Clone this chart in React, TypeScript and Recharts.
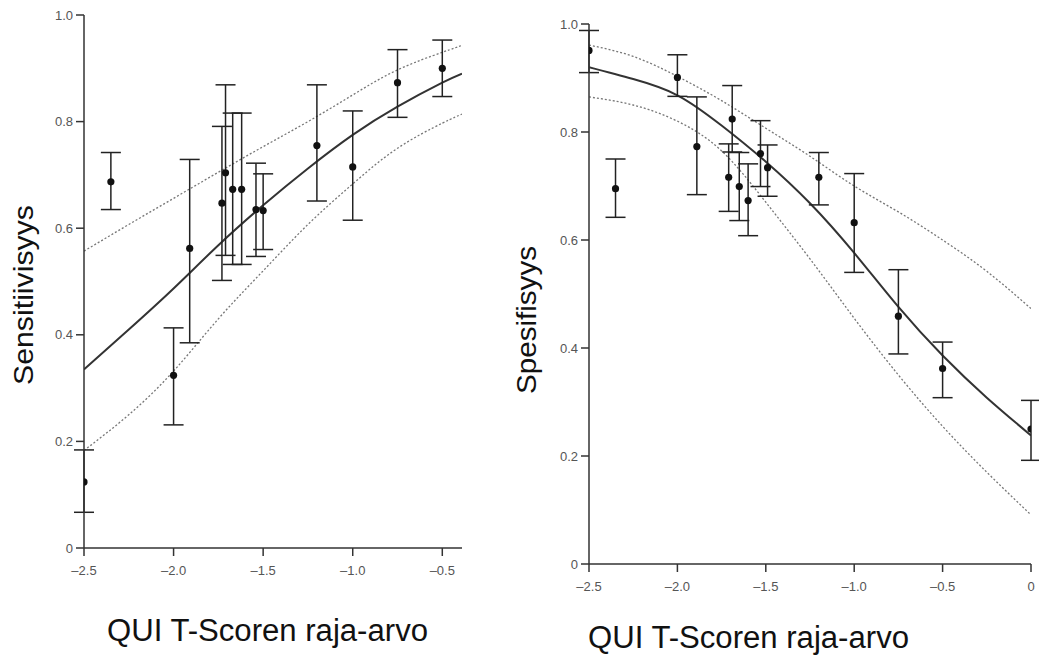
import React from 'react';
import { ComposedChart, Line, Scatter, ErrorBar, XAxis, YAxis } from 'recharts';

// ---------- Left chart: Sensitiivisyys ----------
const sensX = [-2.5, -2.35, -2.0, -1.91, -1.73, -1.71, -1.67, -1.62, -1.54, -1.5, -1.2, -1.0, -0.75, -0.5];
const sensY = [0.124, 0.687, 0.324, 0.562, 0.647, 0.704, 0.673, 0.673, 0.635, 0.633, 0.755, 0.715, 0.873, 0.9];
const sensHi = [0.184, 0.742, 0.413, 0.729, 0.791, 0.869, 0.816, 0.816, 0.722, 0.702, 0.869, 0.82, 0.935, 0.953];
const sensLo = [0.067, 0.635, 0.231, 0.385, 0.502, 0.549, 0.532, 0.532, 0.547, 0.56, 0.651, 0.615, 0.808, 0.847];

const sensCurveX = [-2.5, -2.25, -2.0, -1.75, -1.5, -1.25, -1.0, -0.75, -0.5, -0.39];
const sensFit = [0.335, 0.41, 0.487, 0.568, 0.643, 0.712, 0.775, 0.828, 0.873, 0.89];
const sensUpper = [0.557, 0.607, 0.656, 0.705, 0.753, 0.8, 0.85, 0.897, 0.93, 0.943];
const sensLower = [0.183, 0.25, 0.332, 0.43, 0.52, 0.607, 0.683, 0.75, 0.797, 0.814];

// ---------- Right chart: Spesifisyys ----------
const specX = [-2.5, -2.35, -2.0, -1.89, -1.71, -1.69, -1.65, -1.6, -1.53, -1.49, -1.2, -1.0, -0.75, -0.5, 0];
const specY = [0.951, 0.695, 0.901, 0.773, 0.716, 0.824, 0.699, 0.673, 0.76, 0.734, 0.716, 0.632, 0.459, 0.362, 0.25];
const specHi = [0.988, 0.75, 0.943, 0.865, 0.778, 0.886, 0.762, 0.741, 0.821, 0.776, 0.762, 0.723, 0.545, 0.411, 0.303];
const specLo = [0.91, 0.642, 0.866, 0.684, 0.653, 0.763, 0.636, 0.608, 0.699, 0.681, 0.665, 0.54, 0.389, 0.308, 0.192];

const specCurveX = [-2.5, -2.25, -2.0, -1.75, -1.5, -1.25, -1.0, -0.75, -0.5, -0.25, 0];
const specFit = [0.92, 0.898, 0.868, 0.812, 0.745, 0.668, 0.576, 0.476, 0.386, 0.308, 0.238];
const specUpper = [0.961, 0.94, 0.903, 0.858, 0.807, 0.755, 0.7, 0.652, 0.6, 0.542, 0.473];
const specLower = [0.865, 0.85, 0.82, 0.765, 0.67, 0.565, 0.455, 0.35, 0.255, 0.17, 0.091];

// ---------- Tick labels ----------
const yTicks = [0, 0.2, 0.4, 0.6, 0.8, 1.0];
const leftXTicks = [-2.5, -2.0, -1.5, -1.0, -0.5];
const rightXTicks = [-2.5, -2.0, -1.5, -1.0, -0.5, 0];

const titleX = 'QUI T-Scoren raja-arvo';
const titleYLeft = 'Sensitiivisyys';
const titleYRight = 'Spesifisyys';

const pts = (xs: number[], ys: number[], hi: number[], lo: number[]) =>
  xs.map((x, i) => ({ x, y: ys[i], err: [ys[i] - lo[i], hi[i] - ys[i]] }));
const curve = (xs: number[], ys: number[]) => xs.map((x, i) => ({ x, y: ys[i] }));

const fmtY = (v: number) => (v === 0 ? '0' : v.toFixed(1));
const fmtX = (v: number) => (v === 0 ? '0' : '\u2013' + Math.abs(v).toFixed(1));

const axisStroke = '#333';
const tickStyle = { fontSize: 13, fill: '#555', fontFamily: 'Liberation Sans, Arial, sans-serif' };

const Dot = (props: any) => {
  const { cx, cy } = props;
  if (cx == null || cy == null) return null;
  return <circle cx={cx} cy={cy} r={3.6} fill="#111" />;
};

type PanelProps = {
  width: number;
  height: number;
  margin: { top: number; right: number; bottom: number; left: number };
  domainX: [number, number];
  xTicks: number[];
  points: any[];
  fit: any[];
  upper: any[];
  lower: any[];
};

const Panel = ({ width, height, margin, domainX, xTicks, points, fit, upper, lower }: PanelProps) => (
  <ComposedChart width={width} height={height} margin={margin}>
    <XAxis
      type="number"
      dataKey="x"
      domain={domainX}
      ticks={xTicks}
      allowDataOverflow
      tickFormatter={fmtX}
      stroke={axisStroke}
      strokeWidth={1.5}
      tickSize={8}
      tickMargin={10}
      height={30}
      tick={tickStyle}
    />
    <YAxis
      type="number"
      domain={[0, 1]}
      ticks={yTicks}
      tickFormatter={fmtY}
      stroke={axisStroke}
      strokeWidth={1.5}
      tickSize={8}
      tickMargin={3}
      width={44}
      tick={tickStyle}
    />
    <Line data={upper} dataKey="y" type="natural" dot={false} stroke="#777" strokeWidth={1.3} strokeDasharray="2 2" isAnimationActive={false} />
    <Line data={lower} dataKey="y" type="natural" dot={false} stroke="#777" strokeWidth={1.3} strokeDasharray="2 2" isAnimationActive={false} />
    <Line data={fit} dataKey="y" type="natural" dot={false} stroke="#333" strokeWidth={2} isAnimationActive={false} />
    <Scatter data={points} dataKey="y" shape={Dot} isAnimationActive={false}>
      <ErrorBar dataKey="err" direction="y" width={10} stroke="#222" strokeWidth={1.5} />
    </Scatter>
  </ComposedChart>
);

const titleFont = 'Liberation Sans, Arial, sans-serif';

export default function App() {
  return (
    <div style={{ position: 'absolute', left: 0, top: 0, width: 1039, height: 657, background: '#fff', overflow: 'hidden' }}>
      <div style={{ position: 'absolute', left: 0, top: 0 }}>
        <Panel
          width={480}
          height={600}
          margin={{ top: 15, right: 18, bottom: 22, left: 40 }}
          domainX={[-2.5, -0.39]}
          xTicks={leftXTicks}
          points={pts(sensX, sensY, sensHi, sensLo)}
          fit={curve(sensCurveX, sensFit)}
          upper={curve(sensCurveX, sensUpper)}
          lower={curve(sensCurveX, sensLower)}
        />
      </div>
      <div style={{ position: 'absolute', left: 500, top: 0 }}>
        <Panel
          width={539}
          height={620}
          margin={{ top: 24, right: 8, bottom: 26, left: 45 }}
          domainX={[-2.5, 0]}
          xTicks={rightXTicks}
          points={pts(specX, specY, specHi, specLo)}
          fit={curve(specCurveX, specFit)}
          upper={curve(specCurveX, specUpper)}
          lower={curve(specCurveX, specLower)}
        />
      </div>
      <svg width={1039} height={657} style={{ position: 'absolute', left: 0, top: 0, pointerEvents: 'none' }}>
        <text x={107} y={641} fontSize={31} fontFamily={titleFont} fill="#111" textLength={321} lengthAdjust="spacingAndGlyphs">
          {titleX}
        </text>
        <text x={588} y={648} fontSize={31} fontFamily={titleFont} fill="#111" textLength={321} lengthAdjust="spacingAndGlyphs">
          {titleX}
        </text>
        <text transform="translate(33,295) rotate(-90)" textAnchor="middle" fontSize={28} fontFamily={titleFont} fill="#111" textLength={180} lengthAdjust="spacingAndGlyphs">
          {titleYLeft}
        </text>
        <text transform="translate(536,320) rotate(-90)" textAnchor="middle" fontSize={28} fontFamily={titleFont} fill="#111" textLength={148} lengthAdjust="spacingAndGlyphs">
          {titleYRight}
        </text>
      </svg>
    </div>
  );
}
